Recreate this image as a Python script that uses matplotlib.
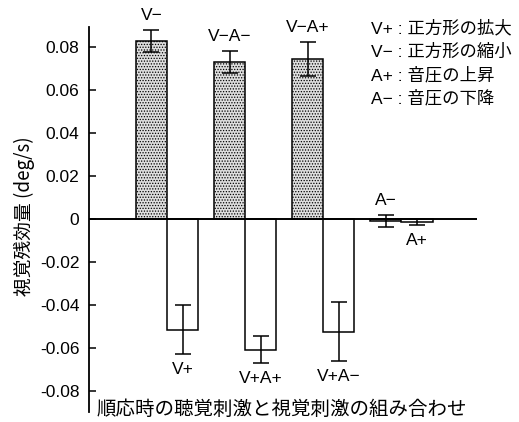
import matplotlib
matplotlib.use("Agg")
import matplotlib.pyplot as plt
import numpy as np

plt.rcParams['axes.unicode_minus'] = False
plt.rcParams['hatch.color'] = '#8a8a8a'
plt.rcParams['hatch.linewidth'] = 0.6

LATIN = ['Liberation Sans', 'Noto Sans CJK JP']
CJK = ['Noto Sans CJK JP', 'Liberation Sans']

# Condition groups: shrinking square (gray) vs expanding square (white)
gray_labels = ['V−', 'V−A−', 'V−A+', 'A−']
gray_values = [0.0828, 0.0730, 0.0744, -0.0010]
gray_errors = [0.0049, 0.0050, 0.0077, 0.0029]

white_labels = ['V+', 'V+A+', 'V+A−', 'A+']
white_values = [-0.0516, -0.0607, -0.0525, -0.0015]
white_errors = [0.0114, 0.0064, 0.0137, 0.0015]

ytick_values = [0.08, 0.06, 0.04, 0.02, 0, -0.02, -0.04, -0.06, -0.08]
ytick_labels = ['0.08', '0.06', '0.04', '0.02', '0', '-0.02', '-0.04', '-0.06', '-0.08']

legend_lines = ['V+ : 正方形の拡大', 'V− : 正方形の縮小', 'A+ : 音圧の上昇', 'A− : 音圧の下降']

fig = plt.figure(figsize=(5.19, 4.22), dpi=100)
W, H = 519, 422
ax = fig.add_axes([89 / W, 1 - 412 / H, 388 / W, 385 / H])

x = np.arange(len(gray_values))
bw = 0.4
xg = x - bw / 2
xw = x + bw / 2

ax.bar(xg, gray_values, width=bw, facecolor='#dedede', edgecolor='black',
       linewidth=1.1, hatch='......', zorder=2)
ax.bar(xw, white_values, width=bw, facecolor='white', edgecolor='black',
       linewidth=1.1, zorder=2)
ax.errorbar(xg, gray_values, yerr=gray_errors, fmt='none', ecolor='black',
            elinewidth=1.1, capsize=6, capthick=1.1, zorder=3)
ax.errorbar(xw, white_values, yerr=white_errors, fmt='none', ecolor='black',
            elinewidth=1.1, capsize=6, capthick=1.1, zorder=3)
ax.axhline(0, color='black', linewidth=1.4, zorder=4)

# condition labels at the error bar ends
for xi, v, e, lab in zip(xg, gray_values, gray_errors, gray_labels):
    ax.annotate(lab, (xi, v + e), xytext=(0, 10.5), textcoords='offset points',
                ha='center', va='center', fontsize=12.5, family=LATIN)
for xi, v, e, lab in zip(xw, white_values, white_errors, white_labels):
    ax.annotate(lab, (xi, v - e), xytext=(0, -11), textcoords='offset points',
                ha='center', va='center', fontsize=12.5, family=LATIN)

ax.set_xlim(-1.0, 3.97)
ax.set_ylim((219 - 412) / 2150, (219 - 27) / 2150)
ax.set_yticks(ytick_values)
ax.set_yticklabels(ytick_labels, fontsize=12.5, family=LATIN)
ax.tick_params(axis='y', direction='in', length=5, width=1.1, pad=7)
ax.set_xticks([])
for s in ['top', 'right', 'bottom']:
    ax.spines[s].set_visible(False)
ax.spines['left'].set_linewidth(1.3)
ax.patch.set_alpha(0)

fig.text(24 / W, 1 - 216 / H, '視覚残効量 (deg/s)', rotation=90, ha='center',
         va='center', fontsize=13.5, family=CJK)
fig.text(97 / W, 1 - 409 / H, '順応時の聴覚刺激と視覚刺激の組み合わせ', ha='left',
         va='center', fontsize=14, family=CJK)

for i, line in enumerate(legend_lines):
    fig.text(371 / W, 1 - (28 + 23.5 * i) / H, line, ha='left', va='center',
             fontsize=12.5, family=LATIN)

fig.savefig('out.png', dpi=100)
